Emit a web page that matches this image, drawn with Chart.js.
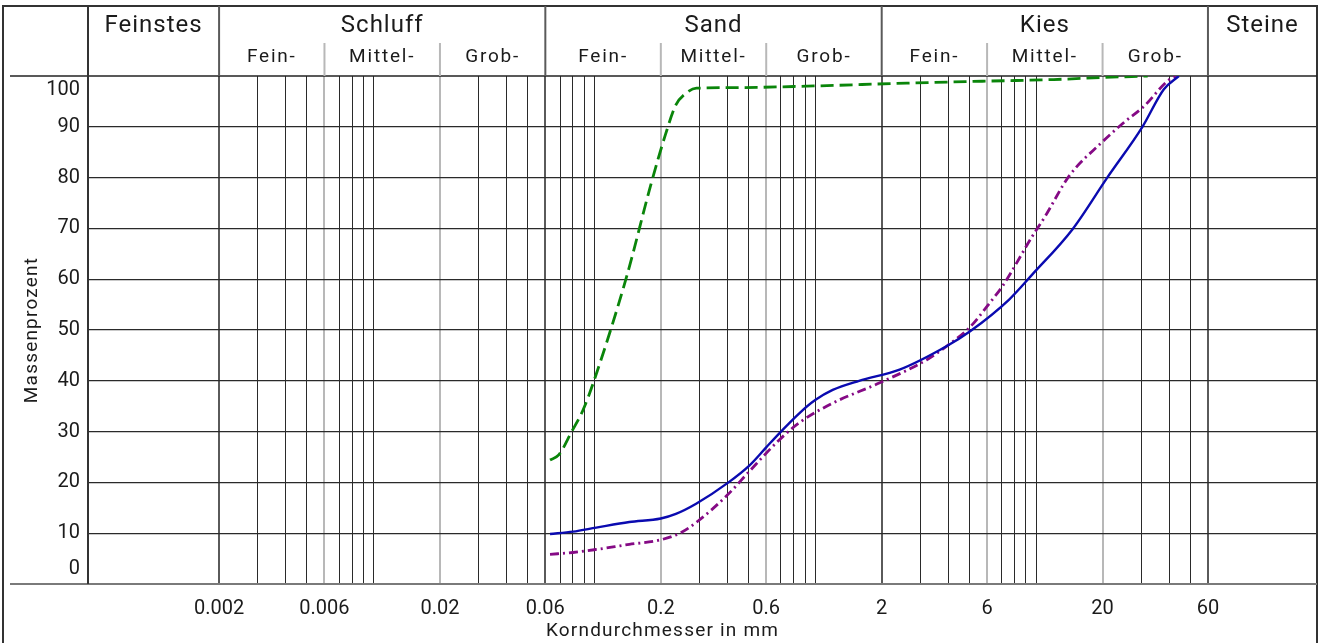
<!DOCTYPE html>
<html>
<head>
<meta charset="utf-8">
<script src="https://cdn.jsdelivr.net/npm/chart.js@4"></script>
<style>
  html, body { margin: 0; padding: 0; background: #fff; }
  #wrap { width: 1325px; height: 643px; }
</style>
</head>
<body>
<div id="wrap"><canvas id="sieve"></canvas></div>
<script>
// grain size (mm) and mass passing (%)
const greenSize = [0.063, 0.069, 0.079, 0.089, 0.1, 0.14, 0.18, 0.21, 0.234, 0.26, 0.29, 0.41, 0.92, 2.6, 6.1, 12, 20, 32];
const greenPass = [24.4, 25.4, 30, 34.3, 40.2, 60.5, 78.5, 88.5, 94.3, 96.6, 97.6, 97.7, 98.0, 98.6, 99.0, 99.3, 99.7, 100];

const blueSize = [0.063, 0.08, 0.102, 0.144, 0.2, 0.234, 0.289, 0.405, 0.503, 0.6, 0.7, 0.847, 1.0, 1.2, 1.58, 2.41, 3.93, 5.01, 7.55, 9.6, 14.6, 21, 30.3, 37.9, 44.3];
const bluePass = [9.85, 10.3, 11.1, 12.2, 12.9, 13.8, 15.8, 20.0, 23.3, 26.9, 30.0, 33.6, 36.2, 38.2, 40.0, 42.2, 46.8, 49.7, 56.0, 60.9, 69.8, 80.0, 90.0, 97.4, 100];

const purpleSize = [0.063, 0.08, 0.102, 0.144, 0.2, 0.246, 0.293, 0.40, 0.494, 0.689, 0.85, 1.2, 1.96, 3.19, 3.93, 5.0, 6.34, 7.04, 9.6, 11.0, 14.1, 19.8, 24.9, 30.9, 39.3, 42.9];
const purplePass = [5.85, 6.2, 6.8, 7.8, 8.7, 10.1, 12.3, 17.5, 21.8, 28.4, 31.8, 35.6, 39.6, 44.1, 46.8, 50.5, 56.0, 58.6, 68.4, 72.4, 80.3, 86.9, 90.8, 94.1, 99.0, 100];

// sieve grid lines and labelled sizes
const gridSizes = [0.002, 0.003, 0.004, 0.005, 0.006, 0.007, 0.008, 0.009, 0.01,
  0.02, 0.03, 0.04, 0.05, 0.06, 0.07, 0.08, 0.09, 0.1,
  0.2, 0.3, 0.4, 0.5, 0.6, 0.7, 0.8, 0.9, 1,
  2, 3, 4, 5, 6, 7, 8, 9, 10, 20, 30, 40, 50, 60];
const tickValues = [0.002, 0.006, 0.02, 0.06, 0.2, 0.6, 2, 6, 20, 60];
const tickLabels = ["0.002", "0.006", "0.02", "0.06", "0.2", "0.6", "2", "6", "20", "60"];
const yTicks = [0, 10, 20, 30, 40, 50, 60, 70, 80, 90, 100];

// soil classes across the top
const mainBounds = [0.002, 0.06, 2, 60];
const subBounds = [0.006, 0.02, 0.2, 0.6, 6, 20];
const classNames = ["Feinstes", "Schluff", "Sand", "Kies", "Steine"];
const subNames = ["Fein-", "Mittel-", "Grob-"];

const X_MIN = 0.00051, X_MAX = 187;
const FONT = "Roboto, 'DejaVu Sans', sans-serif";
const INK = "#1b1b1b";

const points = (xs, ys) => xs.map((x, i) => ({ x: x, y: ys[i] }));

function gridColor(v) {
  if (mainBounds.includes(v)) return "#5a5a5a";
  if (subBounds.includes(v)) return "#b8b8b8";
  return "#2a2a2a";
}
function gridWidth(v) {
  if (mainBounds.includes(v) || subBounds.includes(v)) return 2;
  return 1;
}

const frame = {
  id: "frame",
  beforeDatasetsDraw(chart) {
    const ctx = chart.ctx;
    const a = chart.chartArea;
    const xs = chart.scales.x;
    ctx.save();
    // outer box
    ctx.strokeStyle = "#333";
    ctx.lineWidth = 2;
    ctx.strokeRect(3, 6, a.right - 3, 700);
    // top of plot and x axis line
    ctx.lineWidth = 1.5;
    ctx.strokeStyle = "#222";
    ctx.beginPath();
    ctx.moveTo(10, a.top); ctx.lineTo(a.right, a.top);
    ctx.stroke();
    ctx.lineWidth = 2;
    ctx.strokeStyle = "#7a7a7a";
    ctx.beginPath();
    ctx.moveTo(10, a.bottom); ctx.lineTo(a.right, a.bottom);
    ctx.stroke();
    // left edge of plot, full height
    ctx.strokeStyle = "#333";
    ctx.beginPath();
    ctx.moveTo(a.left, 6); ctx.lineTo(a.left, a.bottom);
    ctx.stroke();
    // header separators
    mainBounds.forEach(v => {
      const px = xs.getPixelForValue(v);
      ctx.strokeStyle = "#5a5a5a";
      ctx.beginPath(); ctx.moveTo(px, 6); ctx.lineTo(px, a.top); ctx.stroke();
    });
    subBounds.forEach(v => {
      const px = xs.getPixelForValue(v);
      ctx.strokeStyle = "#b8b8b8";
      ctx.beginPath(); ctx.moveTo(px, 43); ctx.lineTo(px, a.top); ctx.stroke();
    });
    ctx.restore();
  },
  afterDraw(chart) {
    const ctx = chart.ctx;
    const a = chart.chartArea;
    const xs = chart.scales.x;
    const ys = chart.scales.y;
    ctx.save();
    ctx.fillStyle = INK;
    ctx.textAlign = "center";
    ctx.textBaseline = "middle";

    // class names
    ctx.font = "24px " + FONT;
    ctx.letterSpacing = "1px";
    const edges = [a.left].concat(mainBounds.map(v => xs.getPixelForValue(v)), [a.right]);
    classNames.forEach((name, i) => {
      ctx.fillText(name, (edges[i] + edges[i + 1]) / 2, 26);
    });

    // sub classes for Schluff, Sand, Kies
    ctx.font = "19px " + FONT;
    ctx.letterSpacing = "1.8px";
    for (let k = 0; k < 3; k++) {
      const b = [mainBounds[k], subBounds[2 * k], subBounds[2 * k + 1], mainBounds[k + 1]].map(v => xs.getPixelForValue(v));
      subNames.forEach((name, i) => {
        ctx.fillText(name, (b[i] + b[i + 1]) / 2, 57);
      });
    }

    // y tick labels; the end ones sit inside the plot range
    ctx.font = "20px " + FONT;
    ctx.letterSpacing = "0px";
    ctx.textAlign = "right";
    yTicks.forEach(v => {
      let py = ys.getPixelForValue(v);
      if (v === 100) py += 14;
      if (v === 0) py -= 15;
      ctx.fillText(String(v), 80, py);
    });

    // axis titles
    ctx.font = "19px " + FONT;
    ctx.letterSpacing = "1.2px";
    ctx.textAlign = "center";
    ctx.fillText("Korndurchmesser in mm", chart.width / 2, 631);
    ctx.translate(32, (a.top + a.bottom) / 2);
    ctx.rotate(-Math.PI / 2);
    ctx.fillText("Massenprozent", 0, 0);
    ctx.restore();
  }
};

new Chart(document.getElementById("sieve").getContext("2d"), {
  type: "line",
  data: {
    datasets: [
      {
        data: points(greenSize, greenPass),
        borderColor: "#0a850a",
        borderWidth: 2.8,
        borderDash: [13, 6]
      },
      {
        data: points(blueSize, bluePass),
        borderColor: "#0a0ab0",
        borderWidth: 2.4
      },
      {
        data: points(purpleSize, purplePass),
        borderColor: "#850a85",
        borderWidth: 2.8,
        borderDash: [9, 4, 2, 4]
      }
    ]
  },
  options: {
    responsive: true,
    maintainAspectRatio: false,
    animation: false,
    layout: { padding: { top: 76, right: 8, left: 0, bottom: 0 } },
    elements: {
      point: { radius: 0 },
      line: { cubicInterpolationMode: "monotone", fill: false }
    },
    plugins: {
      legend: { display: false },
      tooltip: { enabled: false }
    },
    scales: {
      x: {
        type: "logarithmic",
        min: X_MIN,
        max: X_MAX,
        afterBuildTicks: s => { s.ticks = gridSizes.map(v => ({ value: v })); },
        afterFit: s => { s.height = 59; },
        border: { display: false },
        grid: {
          drawTicks: false,
          color: c => gridColor(c.tick ? c.tick.value : 0),
          lineWidth: c => gridWidth(c.tick ? c.tick.value : 0)
        },
        ticks: {
          autoSkip: false,
          maxRotation: 0,
          padding: 13,
          color: INK,
          font: { family: FONT, size: 20 },
          callback: v => {
            const i = tickValues.indexOf(v);
            return i >= 0 ? tickLabels[i] : "";
          }
        }
      },
      y: {
        min: 0,
        max: 100,
        afterBuildTicks: s => { s.ticks = yTicks.map(v => ({ value: v })); },
        afterFit: s => { s.width = 88; },
        border: { display: false },
        grid: {
          drawTicks: false,
          color: c => (c.tick && (c.tick.value === 0 || c.tick.value === 100)) ? "rgba(0,0,0,0)" : "#2a2a2a",
          lineWidth: 1.3
        },
        ticks: { display: false }
      }
    }
  },
  plugins: [frame]
});
</script>
</body>
</html>
